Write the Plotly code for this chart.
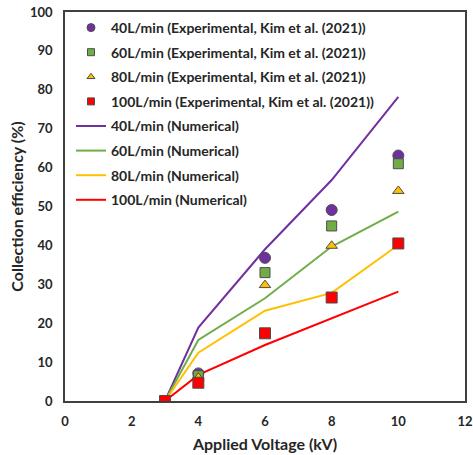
import plotly.graph_objects as go

voltage = [3, 4, 6, 8, 10]

exp_40 = [0, 7.1, 36.8, 49.1, 63.1]
exp_60 = [0, 6.5, 33.0, 45.0, 61.0]
exp_80 = [0, 6.0, 29.8, 39.9, 54.0]
exp_100 = [0, 4.7, 17.4, 26.6, 40.5]

num_40 = [0, 18.9, 39.0, 56.8, 78.2]
num_60 = [0, 15.7, 26.4, 39.7, 48.7]
num_80 = [0, 12.4, 23.2, 27.8, 40.1]
num_100 = [0, 6.7, 14.4, 21.3, 28.1]

x_ticks = [0, 2, 4, 6, 8, 10, 12]
y_ticks = [0, 10, 20, 30, 40, 50, 60, 70, 80, 90, 100]

PURPLE = "#7030A0"
GREEN = "#70AD47"
YELLOW = "#FFC000"
RED = "#FF0000"
EDGE = "#4D4D4D"
TXT = "#262626"

fig = go.Figure()

lines = [
    ("40L/min (Numerical)", num_40, PURPLE),
    ("60L/min (Numerical)", num_60, GREEN),
    ("80L/min (Numerical)", num_80, YELLOW),
    ("100L/min (Numerical)", num_100, RED),
]
for i, (name, ys, c) in enumerate(lines):
    fig.add_trace(go.Scatter(x=voltage, y=ys, mode="lines", name=name,
                             line=dict(color=c, width=2),
                             legendrank=5 + i, legendgroup=name))

exps = [
    ("40L/min (Experimental, Kim et al. (2021))", exp_40, PURPLE, "circle", 11, 8),
    ("60L/min (Experimental, Kim et al. (2021))", exp_60, GREEN, "square", 10, 7),
    ("80L/min (Experimental, Kim et al. (2021))", exp_80, YELLOW, "triangle-up", 10, 7),
    ("100L/min (Experimental, Kim et al. (2021))", exp_100, RED, "square", 11, 7),
]
for i, (name, ys, c, sym, sz, lsz) in enumerate(exps):
    fig.add_trace(go.Scatter(x=voltage, y=ys, mode="markers", name=name,
                             marker=dict(color=c, symbol=sym, size=sz,
                                         line=dict(color=EDGE, width=1)),
                             showlegend=False, legendgroup=name))
    # legend-only entry with smaller symbol, as in the reference legend
    fig.add_trace(go.Scatter(x=[None], y=[None], mode="markers", name=name,
                             marker=dict(color=c, symbol=sym, size=lsz,
                                         line=dict(color=EDGE, width=1)),
                             legendrank=1 + i, legendgroup=name))

fig.update_layout(
    width=473, height=455,
    margin=dict(l=65, r=8, t=12, b=54, autoexpand=False),
    paper_bgcolor="white", plot_bgcolor="white",
    font=dict(family="Lato", size=13, color=TXT),
    showlegend=True,
    legend=dict(x=0.015, y=1.0, xanchor="left", yanchor="top",
                bgcolor="rgba(0,0,0,0)", tracegroupgap=3.4,
                font=dict(family="Lato", size=14, color=TXT, weight="bold"),
                itemwidth=30),
)
fig.update_xaxes(range=[0, 12], tickvals=x_ticks, showgrid=False, zeroline=False,
                 showline=True, linecolor="#404040", linewidth=1.5, mirror=True,
                 ticks="", ticklabelstandoff=8, automargin=False, ticklabeloverflow="allow",
                 tickfont=dict(size=13, weight="bold", color=TXT),
                 title=dict(text="Applied Voltage (kV)", font=dict(size=16, weight="bold", color=TXT), standoff=10))
fig.update_yaxes(range=[0, 100], tickvals=y_ticks, showgrid=False, zeroline=False,
                 showline=True, linecolor="#404040", linewidth=1.5, mirror=True,
                 ticks="", ticklabelstandoff=8, automargin=False, ticklabeloverflow="allow",
                 tickfont=dict(size=13, weight="bold", color=TXT),
                 title=dict(text="Collection efficiency (%)", font=dict(size=16, weight="bold", color=TXT), standoff=2))

fig.write_html("out.html", post_script="document.body.style.margin='0px';",
               config={"displayModeBar": False})
